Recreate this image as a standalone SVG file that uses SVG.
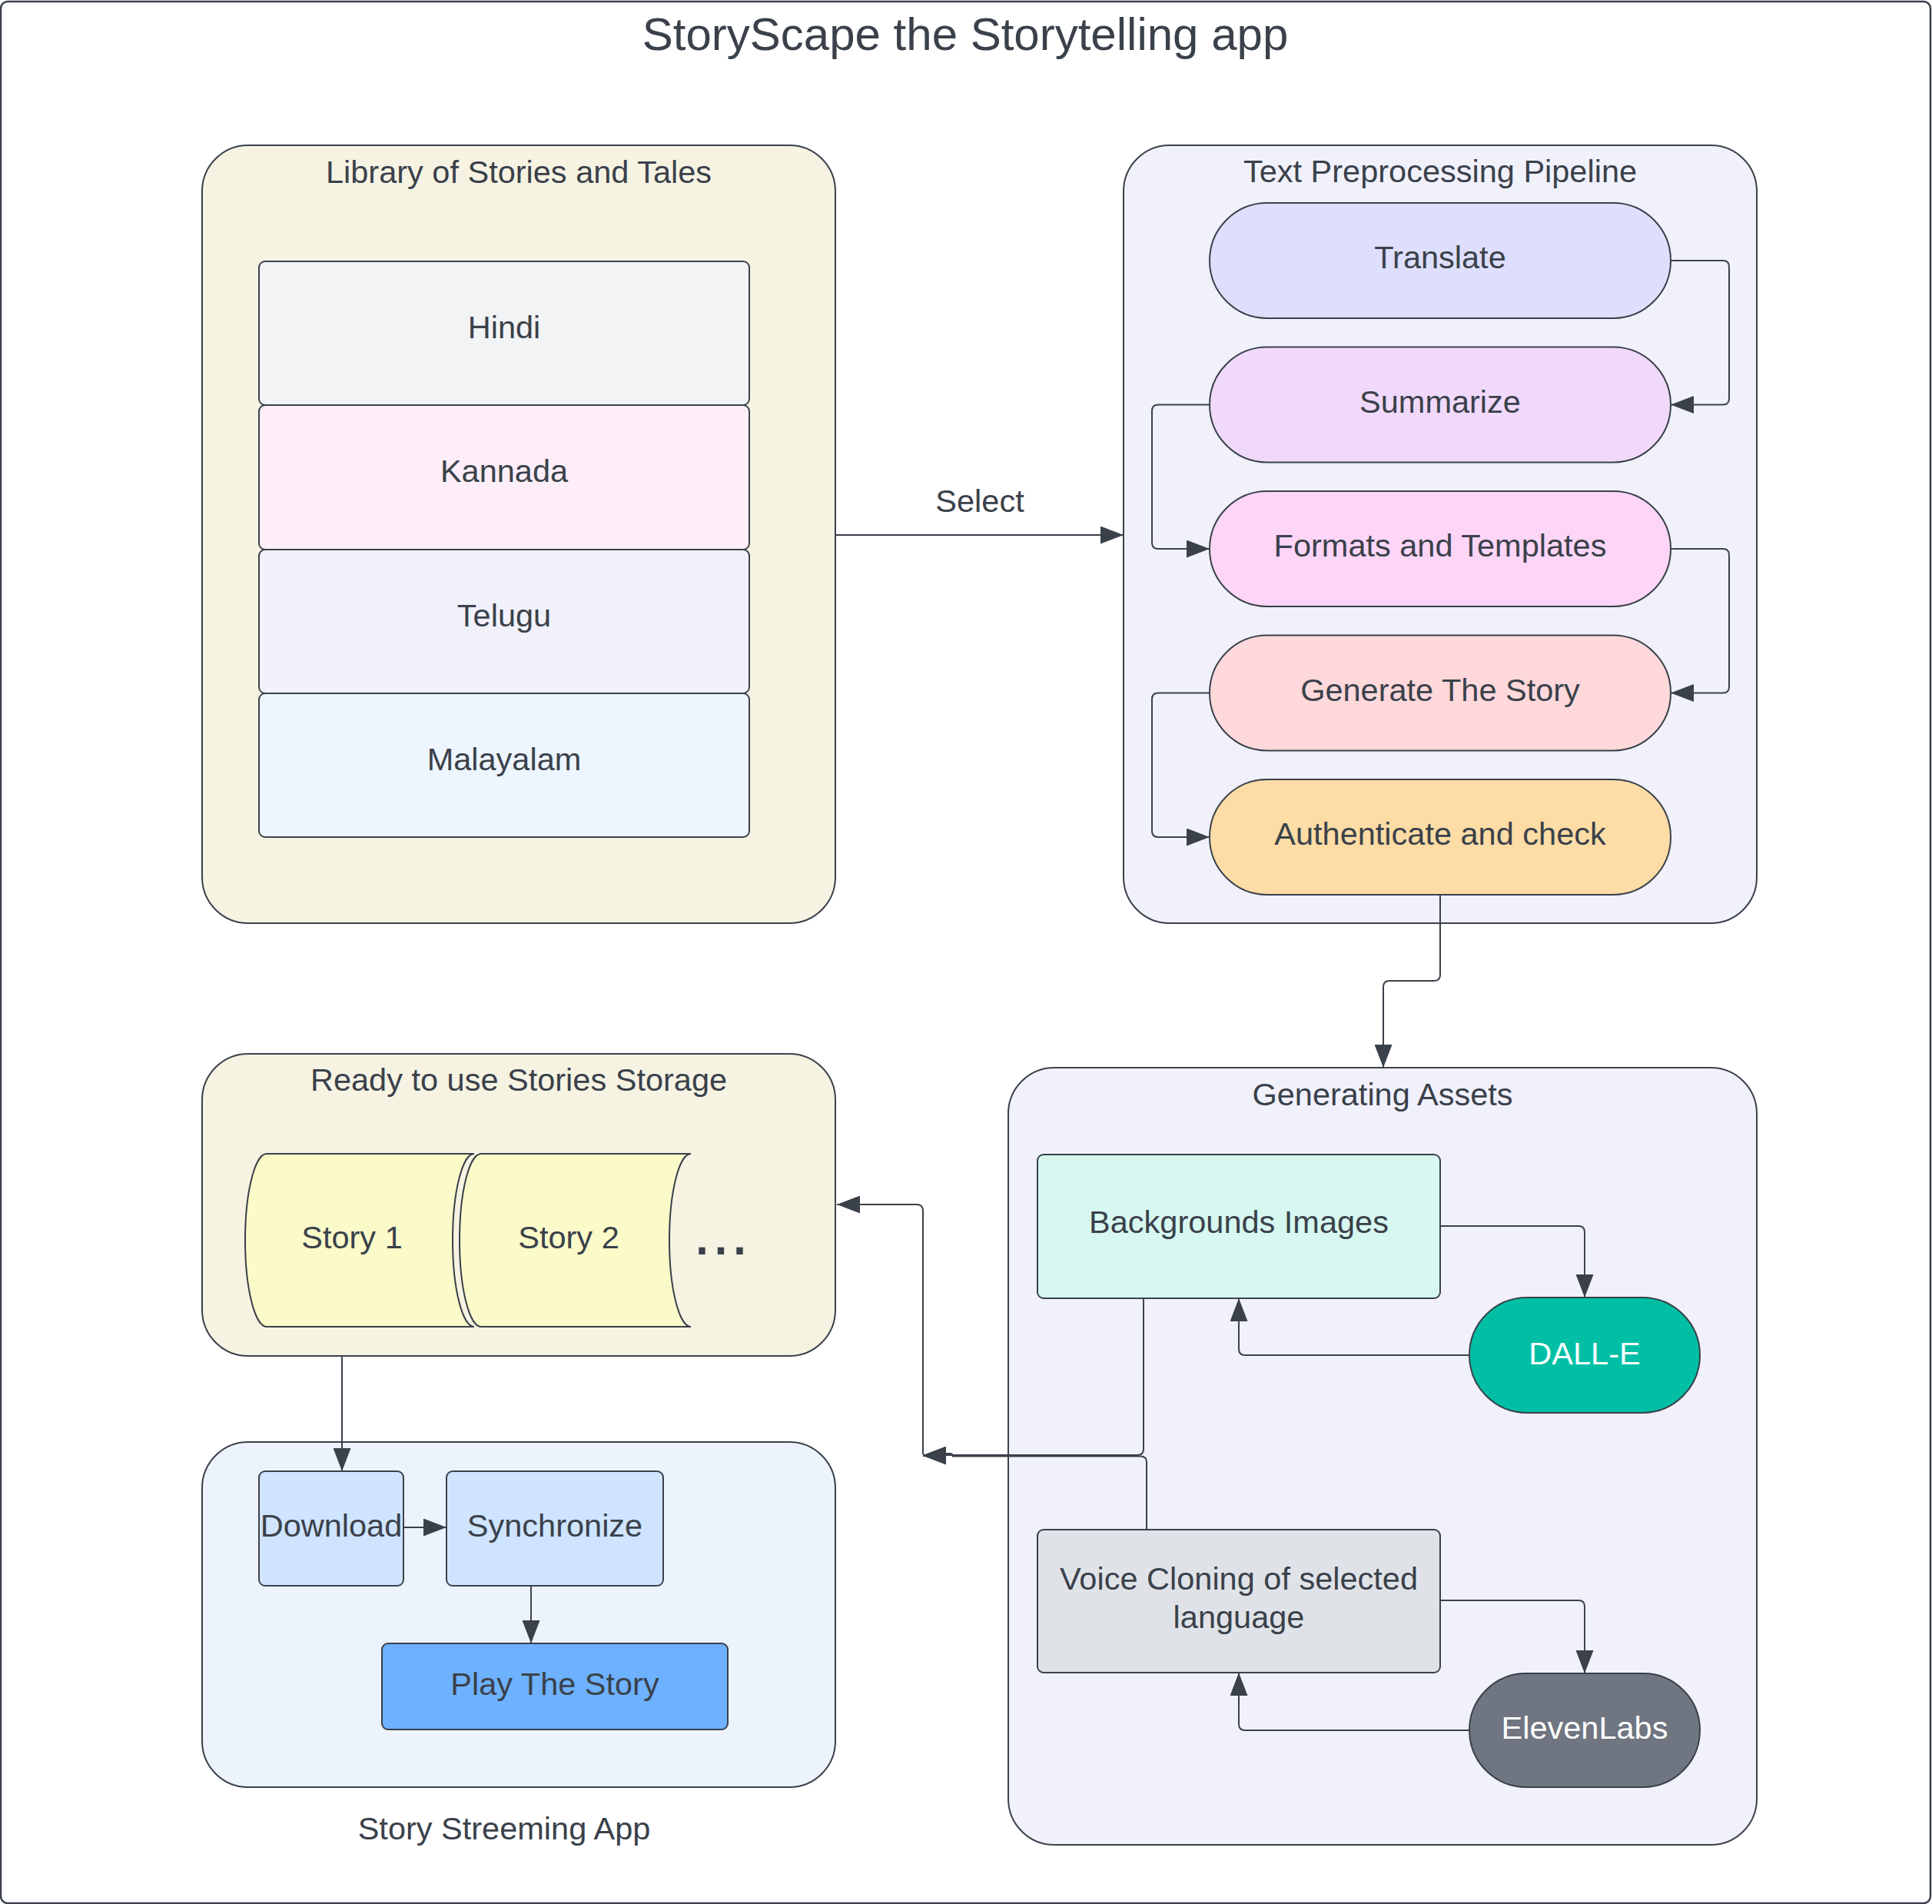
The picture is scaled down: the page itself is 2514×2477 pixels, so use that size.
<svg xmlns="http://www.w3.org/2000/svg" width="2514" height="2477" viewBox="0 0 2514 2477">
<style>
text{font-family:"Liberation Sans",Arial,sans-serif;font-size:41.5px;fill:#3a414a;text-anchor:middle}
.w{fill:#ffffff}
.box{stroke:#3a414a;stroke-width:2}
.cont{stroke:#3a414a;stroke-width:2}
.ln{fill:none;stroke:#3a414a;stroke-width:2}
</style>
<defs>
<marker id="ah" markerUnits="userSpaceOnUse" markerWidth="30" markerHeight="23" refX="30" refY="11.5" orient="auto">
<path d="M0,0 L30,11.5 L0,23 Z" fill="#3a414a"/>
</marker>
</defs>
<rect x="1" y="2" width="2511" height="2474" rx="9" fill="#ffffff" stroke="#3a414a" stroke-width="2.5"/>
<text x="1256" y="65" style="font-size:60px">StoryScape the Storytelling app</text>

<g id="library">
<rect class="cont" x="263" y="189" width="824" height="1012" rx="60" fill="#f6f3e3"/>
<text x="675" y="238">Library of Stories and Tales</text>
<g id="hindi"><rect class="box" x="337" y="340" width="638" height="187" rx="8" fill="#f2f3f5"/><text x="656" y="440">Hindi</text></g>
<g id="kannada"><rect class="box" x="337" y="527" width="638" height="188" rx="8" fill="#fdeef9"/><text x="656" y="627">Kannada</text></g>
<g id="telugu"><rect class="box" x="337" y="715" width="638" height="187" rx="8" fill="#f1f1fc"/><text x="656" y="815">Telugu</text></g>
<g id="malayalam"><rect class="box" x="337" y="902" width="638" height="187" rx="8" fill="#edf5ff"/><text x="656" y="1002">Malayalam</text></g>
</g>

<g id="pipeline">
<rect class="cont" x="1462" y="189" width="824" height="1012" rx="60" fill="#f1f1fc"/>
<text x="1874" y="237">Text Preprocessing Pipeline</text>
<g id="translate"><rect class="box" x="1574" y="264" width="600" height="150" rx="75" fill="#dedffc"/><text x="1874" y="349">Translate</text></g>
<g id="summarize"><rect class="box" x="1574" y="451.5" width="600" height="150" rx="75" fill="#f1d9fc"/><text x="1874" y="536.5">Summarize</text></g>
<g id="formats"><rect class="box" x="1574" y="639" width="600" height="150" rx="75" fill="#fdd5f7"/><text x="1874" y="724">Formats and Templates</text></g>
<g id="generate"><rect class="box" x="1574" y="826.5" width="600" height="150" rx="75" fill="#ffd8db"/><text x="1874" y="911.5">Generate The Story</text></g>
<g id="authenticate"><rect class="box" x="1574" y="1014" width="600" height="150" rx="75" fill="#fddca5"/><text x="1874" y="1099">Authenticate and check</text></g>
</g>

<g id="storage">
<rect class="cont" x="263" y="1371" width="824" height="393" rx="60" fill="#f6f3e3"/>
<text x="675" y="1419">Ready to use Stories Storage</text>
<g id="story1"><path class="box" d="M347 1501 H617 A28 112.5 0 0 0 617 1726 H347 A28 112.5 0 0 1 347 1501 Z" fill="#fbfac9"/><text x="458" y="1624">Story 1</text></g>
<g id="story2"><path class="box" d="M626 1501 H899 A28 112.5 0 0 0 899 1726 H626 A28 112.5 0 0 1 626 1501 Z" fill="#fbfac9"/><text x="740" y="1624">Story 2</text></g>
<text x="938" y="1632" style="font-size:88px">...</text>
</g>

<g id="streaming">
<rect class="cont" x="263" y="1876" width="824" height="449" rx="60" fill="#edf3fd"/>
<text x="656" y="2393">Story Streeming App</text>
<g id="download"><rect class="box" x="337" y="1914" width="188" height="149" rx="8" fill="#cfe4ff"/><text x="431" y="1999">Download</text></g>
<g id="synchronize"><rect class="box" x="581" y="1914" width="282" height="149" rx="8" fill="#cfe4ff"/><text x="722" y="1999">Synchronize</text></g>
<g id="play"><rect class="box" x="497" y="2138" width="450" height="112" rx="8" fill="#6db1ff"/><text x="722" y="2205">Play The Story</text></g>
</g>

<g id="assets">
<rect class="cont" x="1312" y="1389" width="974" height="1011" rx="60" fill="#f1f1fc"/>
<text x="1799" y="1438">Generating Assets</text>
<g id="backgrounds"><rect class="box" x="1350" y="1502" width="524" height="187" rx="8" fill="#d6f8f1"/><text x="1612" y="1604">Backgrounds Images</text></g>
<g id="dalle"><rect class="box" x="1912" y="1688" width="300" height="150" rx="75" fill="#00bfa5"/><text class="w" x="2062" y="1775">DALL-E</text></g>
<g id="voice"><rect class="box" x="1350" y="1990" width="524" height="186" rx="8" fill="#dfe3e8"/><text x="1612" y="2068">Voice Cloning of selected</text><text x="1612" y="2118">language</text></g>
<g id="elevenlabs"><rect class="box" x="1912" y="2177" width="300" height="148" rx="74" fill="#6f7681"/><text class="w" x="2062" y="2262">ElevenLabs</text></g>
</g>

<g id="connectors">
<path class="ln" d="M1087 696 H1462" marker-end="url(#ah)"/>
<text x="1275" y="666">Select</text>
<path class="ln" d="M2174 339 H2242 Q2250 339 2250 347 V518.5 Q2250 526.5 2242 526.5 H2174" marker-end="url(#ah)"/>
<path class="ln" d="M1574 526.5 H1507 Q1499 526.5 1499 534.5 V706 Q1499 714 1507 714 H1574" marker-end="url(#ah)"/>
<path class="ln" d="M2174 714 H2242 Q2250 714 2250 722 V893.5 Q2250 901.5 2242 901.5 H2174" marker-end="url(#ah)"/>
<path class="ln" d="M1574 901.5 H1507 Q1499 901.5 1499 909.5 V1081 Q1499 1089 1507 1089 H1574" marker-end="url(#ah)"/>
<path class="ln" d="M1874 1164 V1268 Q1874 1276 1866 1276 H1808 Q1800 1276 1800 1284 V1389" marker-end="url(#ah)"/>
<path class="ln" d="M1874 1595 H2054 Q2062 1595 2062 1603 V1688" marker-end="url(#ah)"/>
<path class="ln" d="M1912 1763 H1620 Q1612 1763 1612 1755 V1689" marker-end="url(#ah)"/>
<path class="ln" d="M1874 2082 H2054 Q2062 2082 2062 2090 V2177" marker-end="url(#ah)"/>
<path class="ln" d="M1912 2251 H1620 Q1612 2251 1612 2243 V2176" marker-end="url(#ah)"/>
<path class="ln" d="M1488 1689 V1885 Q1488 1893 1480 1893 H1201" marker-end="url(#ah)"/>
<path class="ln" d="M1492 1990 V1902 Q1492 1894.5 1484 1894.5 H1240 Q1240 1891 1236 1891 H1232 Q1230 1891 1230 1894 H1201" marker-end="url(#ah)"/>
<path class="ln" d="M1201 1892 V1575 Q1201 1567 1193 1567 H1089" marker-end="url(#ah)"/>
<path class="ln" d="M445 1764 V1914" marker-end="url(#ah)"/>
<path class="ln" d="M525 1987 H581" marker-end="url(#ah)"/>
<path class="ln" d="M691 2063 V2138" marker-end="url(#ah)"/>
</g>
</svg>
